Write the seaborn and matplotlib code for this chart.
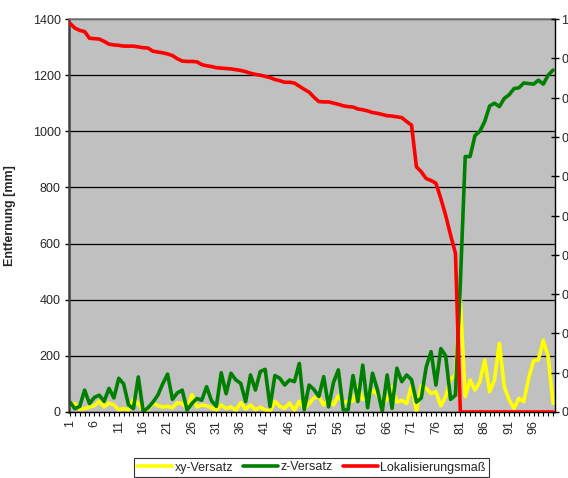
import matplotlib
matplotlib.use("Agg")
import matplotlib.pyplot as plt
import pandas as pd
import seaborn as sns

# Messreihe: Index der Messung
messung = list(range(1, 101))

# Lateraler Versatz [mm]
xy_versatz = [20, 30, 10, 12, 18, 22, 38, 18, 32, 25,
              8, 12, 8, 45, 30, 6, 10, 32, 22, 18,
              20, 15, 33, 30, 12, 62, 18, 25, 22, 15,
              8, 25, 12, 18, 6, 33, 10, 25, 8, 17,
              8, 2, 38, 20, 13, 32, 6, 38, 10, 30,
              50, 55, 25, 45, 25, 58, 30, 40, 38, 90,
              45, 50, 78, 62, 30, 45, 90, 35, 42, 30,
              95, 2, 95, 84, 66, 72, 22, 55, 118, 130,
              400, 55, 114, 78, 108, 185, 72, 114, 245, 90,
              43, 13, 49, 37, 120, 183, 185, 256, 197, 31]

# Versatz in z-Richtung [mm]
z_versatz = [35, 12, 20, 78, 30, 52, 60, 38, 84, 50,
             120, 100, 25, 12, 125, 2, 15, 35, 60, 100,
             135, 45, 68, 78, 7, 30, 48, 42, 90, 40,
             20, 140, 65, 138, 114, 102, 37, 132, 78, 144,
             152, 19, 130, 120, 96, 114, 108, 173, 8, 96,
             80, 55, 126, 18, 105, 150, 8, 8, 130, 37,
             167, 15, 138, 80, 3, 132, 13, 156, 108, 132,
             115, 35, 50, 160, 215, 96, 226, 200, 45, 60,
             460, 910, 910, 985, 1000, 1035, 1090, 1100, 1088, 1117,
             1130, 1152, 1155, 1172, 1170, 1168, 1182, 1168, 1200, 1218]

# Lokalisierungsmass (Sekundaerachse, 0..1)
lokalisierungsmass = [0.989, 0.977, 0.971, 0.968, 0.951, 0.950, 0.949, 0.943, 0.936, 0.934,
                      0.933, 0.931, 0.931, 0.931, 0.929, 0.927, 0.926, 0.918, 0.916, 0.914,
                      0.911, 0.907, 0.899, 0.893, 0.892, 0.892, 0.891, 0.884, 0.881, 0.879,
                      0.876, 0.875, 0.874, 0.873, 0.871, 0.869, 0.866, 0.862, 0.859, 0.857,
                      0.854, 0.851, 0.846, 0.843, 0.839, 0.839, 0.837, 0.829, 0.821, 0.814,
                      0.801, 0.790, 0.789, 0.789, 0.786, 0.783, 0.779, 0.777, 0.776, 0.771,
                      0.769, 0.766, 0.762, 0.760, 0.757, 0.754, 0.753, 0.751, 0.749, 0.739,
                      0.730, 0.624, 0.611, 0.594, 0.589, 0.582, 0.543, 0.500, 0.450, 0.404,
                      0, 0, 0, 0, 0, 0, 0, 0, 0, 0,
                      0, 0, 0, 0, 0, 0, 0, 0, 0, 0]

x_label_ticks = list(range(1, 101, 5))
y_ticks_left = [0, 200, 400, 600, 800, 1000, 1200, 1400]
y_ticks_right = [0, 0.1, 0.2, 0.3, 0.4, 0.5, 0.6, 0.7, 0.8, 0.9, 1.0]
y_labels_right = ["0", "0,1", "0,2", "0,3", "0,4", "0,5", "0,6", "0,7", "0,8", "0,9", "1"]

df = pd.DataFrame({
    "Messung": messung,
    "xy-Versatz": xy_versatz,
    "z-Versatz": z_versatz,
    "Lokalisierungsmaß": lokalisierungsmass,
})

sns.set_theme(style="white")
plt.rcParams["font.family"] = ["Liberation Sans", "DejaVu Sans"]

W, H = 568, 478
fig = plt.figure(figsize=(W / 100, H / 100), dpi=100)
L, R, T, B = 69, 555, 19, 412
ax = fig.add_axes([L / W, 1 - B / H, (R - L) / W, (B - T) / H])
ax.set_facecolor("#C0C0C0")

lw = 2.6
sns.lineplot(data=df, x="Messung", y="xy-Versatz", ax=ax, color="#FFFF00",
             lw=lw, label="xy-Versatz", legend=False)
sns.lineplot(data=df, x="Messung", y="z-Versatz", ax=ax, color="#008000",
             lw=lw, label="z-Versatz", legend=False)

ax2 = ax.twinx()
sns.lineplot(data=df, x="Messung", y="Lokalisierungsmaß", ax=ax2, color="#FF0000",
             lw=lw, label="Lokalisierungsmaß", legend=False)

ax.set_xlim(0.8, 100.4)
ax.set_ylim(0, 1400)
ax2.set_ylim(0, 1)

# primary axis
ax.set_yticks(y_ticks_left)
ax.set_yticklabels([str(v) for v in y_ticks_left])
ax.set_xticks(x_label_ticks)
ax.set_xticklabels([str(v) for v in x_label_ticks], rotation=90)
ax.set_xticks(messung, minor=True)
ax.tick_params(axis="y", which="major", direction="out", length=3, width=1,
               color="black", labelsize=9, pad=3, left=True)
ax.tick_params(axis="x", which="both", direction="out", length=3, width=0.8,
               color="black", labelsize=9, pad=3, bottom=True)
ax.yaxis.grid(True, color="black", lw=0.9)
ax.xaxis.grid(False)
ax.set_axisbelow(True)
ax.set_xlabel("")
ax.set_ylabel("Entfernung [mm]", fontsize=9, fontweight="bold")
ax.yaxis.set_label_coords((16 - L) / (R - L), (B - 216) / (B - T))

ax.spines["left"].set_color("#404040")
ax.spines["left"].set_linewidth(1.8)
ax.spines["top"].set_color("#808080")
ax.spines["top"].set_linewidth(1.2)
ax.spines["bottom"].set_color("black")
ax.spines["bottom"].set_linewidth(1.0)
ax.spines["right"].set_visible(False)

# secondary axis
for s in ("left", "top", "bottom"):
    ax2.spines[s].set_visible(False)
ax2.spines["right"].set_color("black")
ax2.spines["right"].set_linewidth(1.0)
ax2.set_yticks(y_ticks_right)
ax2.set_yticklabels(y_labels_right)
ax2.tick_params(axis="y", direction="inout", length=6, width=1, color="black",
                labelsize=9, pad=1.5, right=True)
ax2.grid(False)
ax2.set_ylabel("")

handles = ax.get_lines()[:2] + ax2.get_lines()[:1]
labels = ["xy-Versatz", "z-Versatz", "Lokalisierungsmaß"]
leg = fig.legend(handles, labels, loc="center",
                 bbox_to_anchor=(311.5 / W, 1 - 467.5 / H), ncol=3,
                 frameon=True, fancybox=False, shadow=False, fontsize=9,
                 handlelength=2.8, handletextpad=0.2, columnspacing=0.8,
                 borderpad=0.25, borderaxespad=0)
leg.get_frame().set_edgecolor("black")
leg.get_frame().set_linewidth(0.8)

fig.savefig("out.png", dpi=100)
